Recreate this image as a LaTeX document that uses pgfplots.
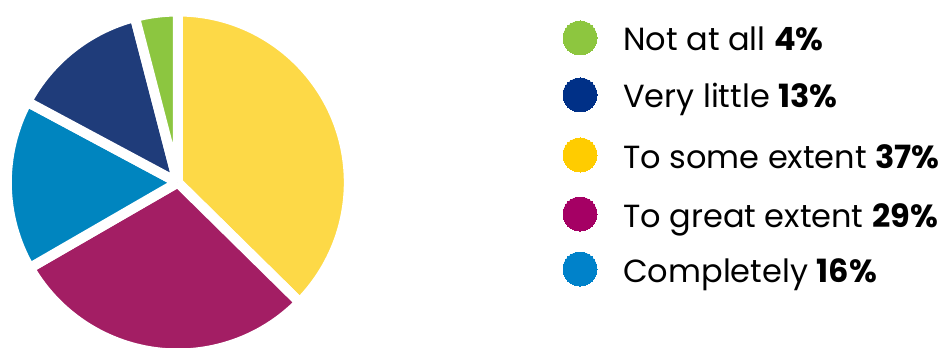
\documentclass[border=0pt]{standalone}
\usepackage{pgfplots}
\pgfplotsset{compat=1.18}
\usepackage{pgfplotstable}
\usepackage{fontspec}
\setmainfont{Poppins}

% slice colours (index = row of the table)
\definecolor{slice0}{HTML}{FDD947}
\definecolor{slice1}{HTML}{A31E64}
\definecolor{slice2}{HTML}{0085BF}
\definecolor{slice3}{HTML}{1F3C7A}
\definecolor{slice4}{HTML}{8CC640}
% legend colours
\definecolor{leg0}{HTML}{FFCC00}
\definecolor{leg1}{HTML}{A50064}
\definecolor{leg2}{HTML}{0082CA}
\definecolor{leg3}{HTML}{003087}
\definecolor{leg4}{HTML}{8DC63F}

% percentage, legend row (pixel from top), label
\pgfplotstableread[col sep=comma]{
pct,ly,label
37,155,To some extent
29,214,To great extent
16,269,Completely
13,95,Very little
4,38,Not at all
}\piedata

\gdef\pietotal{0}
\pgfplotsforeachungrouped \i in {0,...,4}{%
  \pgfplotstablegetelem{\i}{pct}\of\piedata
  \pgfmathsetmacro\pietmp{\pietotal+\pgfplotsretval}%
  \xdef\pietotal{\pietmp}%
}
\gdef\pieacc{0}
\pgfplotsforeachungrouped \i in {0,...,4}{%
  \pgfplotstablegetelem{\i}{pct}\of\piedata
  \let\pv\pgfplotsretval
  \pgfmathsetmacro\pa{90-(\pieacc/\pietotal)*360}%
  \pgfmathsetmacro\pienew{\pieacc+\pv}%
  \xdef\pieacc{\pienew}%
  \pgfmathsetmacro\pb{90-(\pieacc/\pietotal)*360}%
  \expandafter\xdef\csname slicea\i\endcsname{\pa}%
  \expandafter\xdef\csname sliceb\i\endcsname{\pb}%
  \expandafter\xdef\csname slicepct\i\endcsname{\pv}%
  \pgfplotstablegetelem{\i}{label}\of\piedata
  \expandafter\xdef\csname slicelab\i\endcsname{\pgfplotsretval}%
}

\begin{document}
\begin{tikzpicture}
\begin{axis}[
  hide axis, scale only axis,
  width=707.25pt, height=260.25pt,
  xmin=0, xmax=943, ymin=0, ymax=347,
  clip=false,
]
\pgfplotsinvokeforeach{0,...,4}{%
  % pie slice #1
  \addplot[scatter, only marks, mark=*, mark size=0pt,
    mark options={draw=none, fill=none},
    restrict expr to domain={\coordindex}{#1:#1},
    scatter/@pre marker code/.code={%
      \path[fill=slice#1, draw=white, line width=7.5pt, line join=round]
        (0,0) -- (\csname slicea#1\endcsname:128.25pt)
        arc[start angle=\csname slicea#1\endcsname, end angle=\csname sliceb#1\endcsname, radius=128.25pt] -- cycle;
    },
    scatter/@post marker code/.code={},
  ] table[x expr=177.8, y expr=164.5] \piedata;
  % legend marker #1
  \addplot[only marks, mark=*, mark size=12.75pt, color=leg#1,
    mark options={draw=leg#1, fill=leg#1, line width=0pt},
    restrict expr to domain={\coordindex}{#1:#1},
  ] table[x expr=580, y expr=347-\thisrow{ly}] \piedata;
  % legend label #1
  \addplot[only marks, mark=none, draw=none,
    restrict expr to domain={\coordindex}{#1:#1},
    nodes near coords={\csname slicelab#1\endcsname\ \textbf{\csname slicepct#1\endcsname\%}},
    every node near coord/.append style={anchor=base west, inner sep=0pt,
      xshift=32.25pt, yshift=-9.75pt, text=black,
      font=\fontsize{24}{29}\selectfont},
  ] table[x expr=580, y expr=347-\thisrow{ly}] \piedata;
}
\end{axis}
\pgfresetboundingbox
\path (0,0) rectangle (707.25pt,260.25pt);
\end{tikzpicture}
\end{document}
